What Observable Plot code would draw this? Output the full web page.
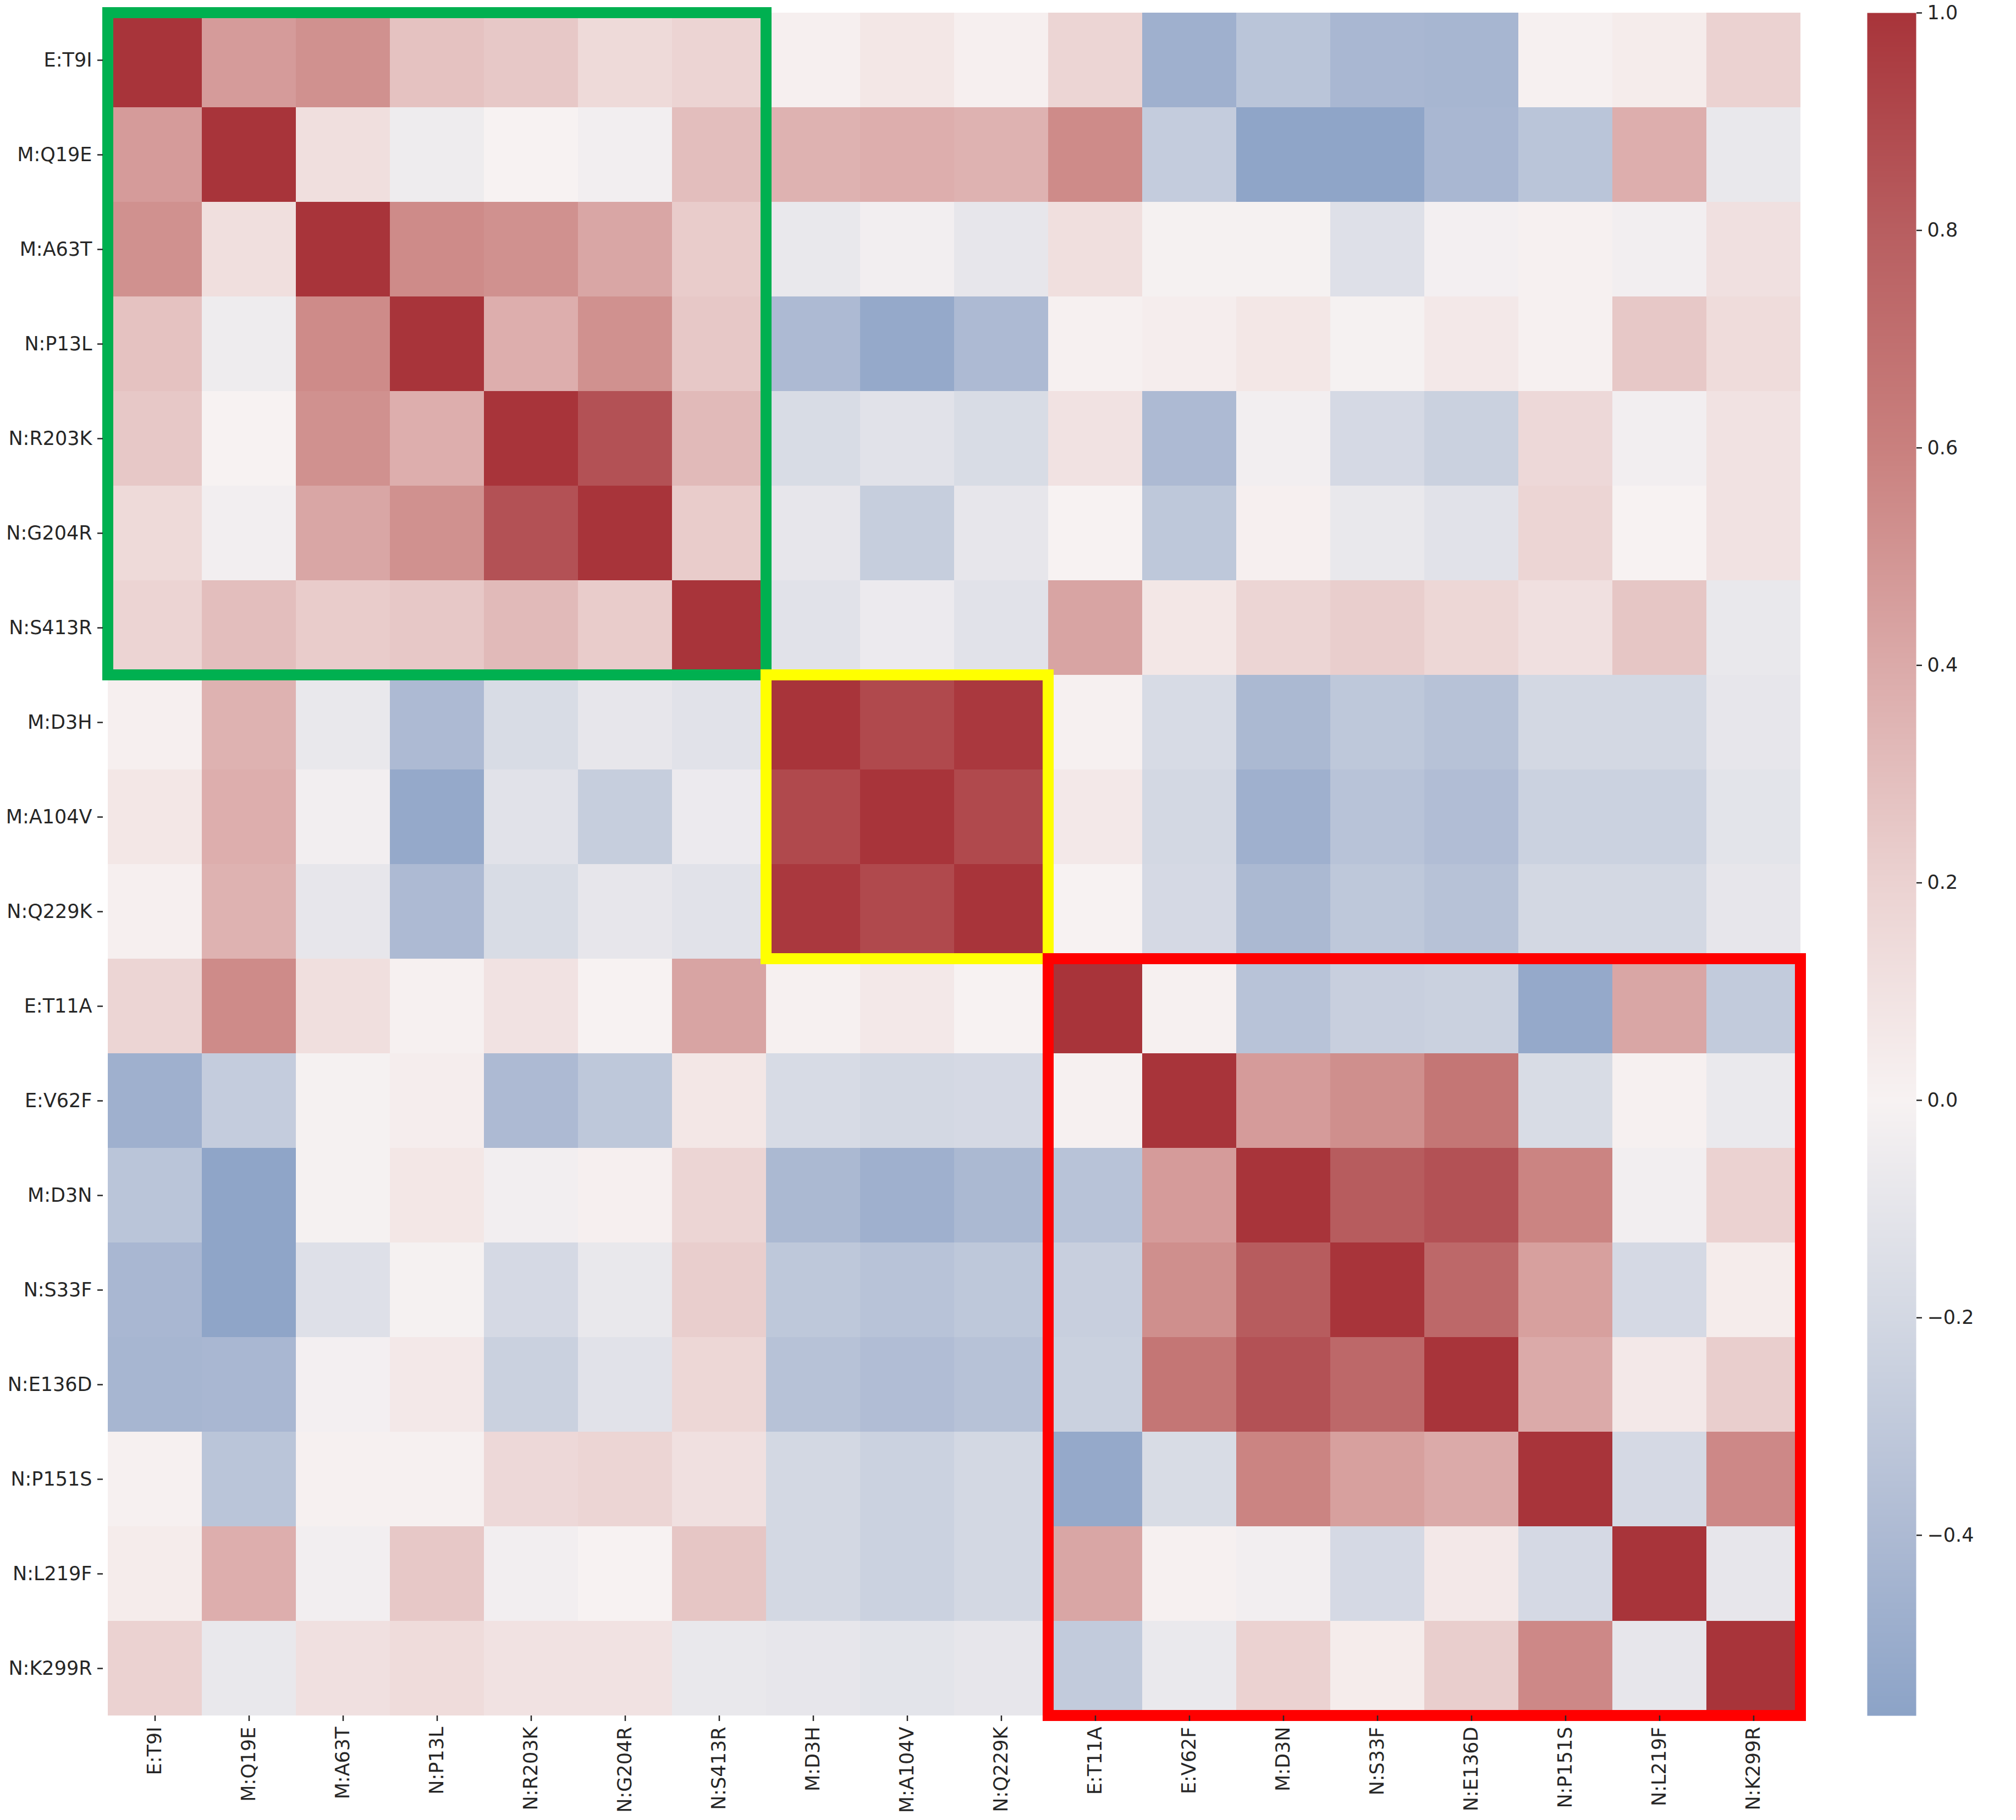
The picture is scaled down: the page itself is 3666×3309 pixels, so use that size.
<!DOCTYPE html>
<html>
<head>
<meta charset="utf-8">
<script src="https://cdn.jsdelivr.net/npm/d3@7"></script>
<script src="https://cdn.jsdelivr.net/npm/@observablehq/plot@0.6"></script>
<style>
  html, body { margin: 0; padding: 0; background: #ffffff; }
  #wrap { position: relative; width: 3666px; height: 3309px; background: #ffffff; overflow: hidden; }
  #heat { position: absolute; left: 0; top: 0; }
  #cbar { position: absolute; left: 3300px; top: 0; }
</style>
</head>
<body>
<div id="wrap"><div id="heat"></div><div id="cbar"></div></div>
<script>
// ---- categories (mutations) ----
const mutations = ["E:T9I","M:Q19E","M:A63T","N:P13L","N:R203K","N:G204R","N:S413R",
  "M:D3H","M:A104V","N:Q229K","E:T11A","E:V62F","M:D3N","N:S33F","N:E136D","N:P151S","N:L219F","N:K299R"];

// ---- correlation rows (one per mutation, columns in the same order) ----
const r_E_T9I    = [ 1.00, 0.47, 0.52, 0.28, 0.25, 0.15, 0.19, 0.02, 0.07, 0.02, 0.18,-0.47,-0.33,-0.42,-0.43, 0.01, 0.04, 0.20];
const r_M_Q19E   = [ 0.47, 1.00, 0.12,-0.05, 0.00,-0.03, 0.30, 0.36, 0.38, 0.36, 0.55,-0.28,-0.55,-0.55,-0.42,-0.33, 0.38,-0.08];
const r_M_A63T   = [ 0.52, 0.12, 1.00, 0.55, 0.52, 0.42, 0.23,-0.08,-0.03,-0.09, 0.12,-0.01,-0.01,-0.14,-0.02, 0.01,-0.03, 0.11];
const r_N_P13L   = [ 0.28,-0.05, 0.55, 1.00, 0.38, 0.52, 0.25,-0.40,-0.52,-0.40, 0.01, 0.03, 0.07,-0.01, 0.06, 0.01, 0.25, 0.14];
const r_N_R203K  = [ 0.25, 0.00, 0.52, 0.38, 1.00, 0.86, 0.32,-0.17,-0.12,-0.17, 0.10,-0.40,-0.03,-0.19,-0.25, 0.16,-0.03, 0.10];
const r_N_G204R  = [ 0.15,-0.03, 0.42, 0.52, 0.86, 1.00, 0.23,-0.09,-0.27,-0.09, 0.00,-0.31, 0.02,-0.08,-0.12, 0.18, 0.00, 0.10];
const r_N_S413R  = [ 0.19, 0.30, 0.23, 0.25, 0.32, 0.23, 1.00,-0.12,-0.06,-0.12, 0.43, 0.07, 0.18, 0.22, 0.17, 0.11, 0.26,-0.08];
const r_M_D3H    = [ 0.02, 0.36,-0.08,-0.40,-0.17,-0.09,-0.12, 1.00, 0.90, 0.98, 0.01,-0.18,-0.41,-0.31,-0.35,-0.20,-0.20,-0.09];
const r_M_A104V  = [ 0.07, 0.38,-0.03,-0.52,-0.12,-0.27,-0.06, 0.90, 1.00, 0.90, 0.06,-0.20,-0.47,-0.34,-0.38,-0.24,-0.24,-0.11];
const r_N_Q229K  = [ 0.02, 0.36,-0.09,-0.40,-0.17,-0.09,-0.12, 0.98, 0.90, 1.00, 0.00,-0.19,-0.41,-0.31,-0.35,-0.20,-0.20,-0.09];
const r_E_T11A   = [ 0.18, 0.55, 0.12, 0.01, 0.10, 0.00, 0.43, 0.01, 0.06, 0.00, 1.00, 0.01,-0.34,-0.26,-0.25,-0.52, 0.42,-0.29];
const r_E_V62F   = [-0.47,-0.28,-0.01, 0.03,-0.40,-0.31, 0.07,-0.18,-0.20,-0.19, 0.01, 1.00, 0.47, 0.53, 0.66,-0.17, 0.01,-0.07];
const r_M_D3N    = [-0.33,-0.55,-0.01, 0.07,-0.03, 0.02, 0.18,-0.41,-0.47,-0.41,-0.34, 0.47, 1.00, 0.81, 0.86, 0.58,-0.03, 0.20];
const r_N_S33F   = [-0.42,-0.55,-0.14,-0.01,-0.19,-0.08, 0.22,-0.31,-0.34,-0.31,-0.26, 0.53, 0.81, 1.00, 0.74, 0.45,-0.19, 0.04];
const r_N_E136D  = [-0.43,-0.42,-0.02, 0.06,-0.25,-0.12, 0.17,-0.35,-0.38,-0.35,-0.25, 0.66, 0.86, 0.74, 1.00, 0.40, 0.06, 0.22];
const r_N_P151S  = [ 0.01,-0.33, 0.01, 0.01, 0.16, 0.18, 0.11,-0.20,-0.24,-0.20,-0.52,-0.17, 0.58, 0.45, 0.40, 1.00,-0.19, 0.56];
const r_N_L219F  = [ 0.04, 0.38,-0.03, 0.25,-0.03, 0.00, 0.26,-0.20,-0.24,-0.20, 0.42, 0.01,-0.03,-0.19, 0.06,-0.19, 1.00,-0.09];
const r_N_K299R  = [ 0.20,-0.08, 0.11, 0.14, 0.10, 0.10,-0.08,-0.09,-0.11,-0.09,-0.29,-0.07, 0.20, 0.04, 0.22, 0.56,-0.09, 1.00];

// ---- highlighted clusters (first and last mutation of each block) ----
const clusterFirst  = ["E:T9I", "M:D3H",   "E:T11A"];
const clusterLast   = ["N:S413R", "N:Q229K", "N:K299R"];
const clusterColors = ["#00b050", "#ffff00", "#ff0000"];

// ---- colour bar ----
const colorbarTicks = [-0.4, -0.2, 0.0, 0.2, 0.4, 0.6, 0.8, 1.0];
const vmin = -0.566, vmax = 1.0;
const rampStops  = [vmin, -0.4, -0.2, 0, 0.2, 0.4, 0.6, 0.8, 1.0];
const rampColors = ["#8ca3c7", "#adbad3", "#d3d8e3", "#f7f2f2", "#ebd2d1", "#dbaaa9", "#c9807e", "#b85e60", "#a8343a"];

// ---- build tidy table ----
const rows = [r_E_T9I, r_M_Q19E, r_M_A63T, r_N_P13L, r_N_R203K, r_N_G204R, r_N_S413R, r_M_D3H, r_M_A104V,
  r_N_Q229K, r_E_T11A, r_E_V62F, r_M_D3N, r_N_S33F, r_N_E136D, r_N_P151S, r_N_L219F, r_N_K299R];
const table = [];
rows.forEach((row, i) => row.forEach((v, j) => table.push({row: mutations[i], col: mutations[j], value: v})));
const clusters = clusterFirst.map((f, i) => ({first: f, last: clusterLast[i], color: clusterColors[i]}));

const colorScale = {type: "linear", domain: rampStops, range: rampColors, interpolate: "rgb", clamp: true};
const font = {fontFamily: "'DejaVu Sans', sans-serif", fontSize: "35px", color: "#262626", background: "white"};

const heat = Plot.plot({
  width: 3300, height: 3309,
  marginLeft: 187, marginTop: 23, marginRight: 18, marginBottom: 190,
  x: {domain: mutations, padding: 0, axis: null},
  y: {domain: mutations, padding: 0, axis: null},
  color: colorScale,
  style: font,
  marks: [
    Plot.cell(table, {x: "col", y: "row", fill: "value", inset: 0, shapeRendering: "crispEdges"}),
    Plot.rect(clusters, {x1: "first", x2: "last", y1: "first", y2: "last", fill: "none", stroke: "color", strokeWidth: 20}),
    Plot.axisX({anchor: "bottom", tickRotate: -90, tickSize: 10, tickPadding: 10, strokeWidth: 2.5, label: null}),
    Plot.axisY({anchor: "left", tickSize: 10, tickPadding: 10, strokeWidth: 2.5, label: null})
  ]
});
document.getElementById("heat").appendChild(heat);

const cbar = Plot.plot({
  width: 366, height: 3309,
  marginLeft: 95, marginRight: 182, marginTop: 23, marginBottom: 190,
  x: {domain: [0, 1], axis: null},
  y: {domain: [vmin, vmax], axis: null},
  color: colorScale,
  style: font,
  marks: [
    Plot.raster({x1: 0, x2: 1, y1: vmin, y2: vmax, fill: (x, y) => y, pixelSize: 1}),
    Plot.axisY(colorbarTicks, {anchor: "right", tickSize: 10, tickPadding: 10, strokeWidth: 2.5, tickFormat: ".1f", label: null})
  ]
});
document.getElementById("cbar").appendChild(cbar);
</script>
</body>
</html>
